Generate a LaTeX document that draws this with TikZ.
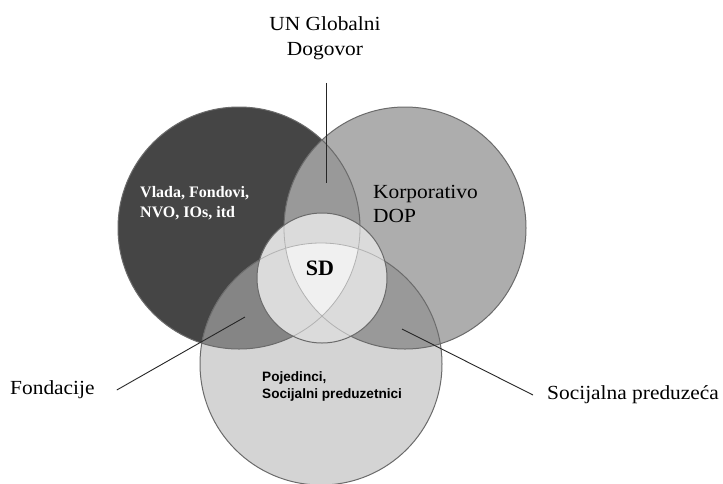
\documentclass[tikz,border=0pt]{standalone}
\usepackage{fontspec}
\setmainfont{Liberation Serif}
\newfontfamily\boxsans{Liberation Sans}
\usetikzlibrary{calc}

\definecolor{govfill}{gray}{0.27}
\definecolor{corpfill}{gray}{0.68}
\definecolor{indfill}{gray}{0.83}
\definecolor{govcorp}{gray}{0.60}
\definecolor{govind}{gray}{0.52}
\definecolor{corpind}{gray}{0.60}
\definecolor{sdfill}{gray}{0.86}
\definecolor{sdcore}{gray}{0.94}
\definecolor{rim}{gray}{0.42}

\tikzset{
  lbl/.style={inner sep=0pt, font=\fontsize{20}{25}\selectfont, xscale=1.07},
  leader/.style={draw=black!85, line width=0.9pt},
  rimline/.style={draw=rim, line width=1pt},
  faintline/.style={draw=black!30, line width=0.8pt}
}

\begin{document}
\begin{tikzpicture}[x=1pt,y=-1pt]
		%%%%% START %%%%%
		\useasboundingbox (0,0) rectangle (723,483);
		\fill[white] (0,0) rectangle (723,483);
		\def\rbig{121}
		\def\rsmall{65}
		
		\coordinate (gov) at (239,228);
		\coordinate (corp) at (405,228);
		\coordinate (ind) at (321,364);
		\coordinate (core) at (322,278);
		
		\fill[govfill] (gov) circle[radius=\rbig];
		\fill[corpfill] (corp) circle[radius=\rbig];
		\fill[indfill] (ind) circle[radius=\rbig];
		
		\begin{scope}
			\clip (gov) circle[radius=\rbig];
			\fill[govcorp] (corp) circle[radius=\rbig];
			\fill[govind] (ind) circle[radius=\rbig];
		\end{scope}
		\begin{scope}
			\clip (corp) circle[radius=\rbig];
			\fill[corpind] (ind) circle[radius=\rbig];
		\end{scope}
		
		\draw[rimline] (gov) circle[radius=\rbig];
		\draw[rimline] (corp) circle[radius=\rbig];
		\draw[rimline] (ind) circle[radius=\rbig];
		
		% SD in the middle
		\fill[sdfill] (core) circle[radius=\rsmall];
		\begin{scope}
			\clip (gov) circle[radius=\rbig];
			\clip (corp) circle[radius=\rbig];
			\fill[sdcore] (ind) circle[radius=\rbig];
		\end{scope}
		\begin{scope}
			\clip (core) circle[radius=\rsmall];
			\draw[faintline] (gov) circle[radius=\rbig];
			\draw[faintline] (corp) circle[radius=\rbig];
			\draw[faintline] (ind) circle[radius=\rbig];
		\end{scope}
		\draw[rimline] (core) circle[radius=\rsmall];
		
		\node[anchor=west, align=left, text=white, inner sep=0pt, font=\fontsize{16}{20}\selectfont\bfseries] (govtext) at (140,203) {Vlada, Fondovi,\\NVO, IOs, itd};
		\node[lbl, anchor=west, align=left, font=\fontsize{20}{24}\selectfont] (corptext) at (373,204) {Korporativo\\DOP};
		\node[inner sep=0pt, font=\fontsize{22}{26}\selectfont\bfseries] (sdtext) at (320,268) {SD};
		\node[anchor=west, align=left, inner sep=0pt, font=\boxsans\fontsize{13.6}{17}\selectfont\bfseries] (indtext) at (262,386.5) {Pojedinci,\\Socijalni preduzetnici};
		
		% labels outside
		\node[lbl, align=center] (un) at (325,38) {UN Globalni\\Dogovor};
		\node[lbl, anchor=west] (fond) at (10,390) {Fondacije};
		\node[lbl, anchor=west] (socp) at (547,395) {Socijalna preduzeća};
		
		\coordinate (untip) at (326,183);
		\coordinate (fondtip) at (245,317);
		\coordinate (socptip) at (402,329);
		
		\draw[leader] (untip |- un.south) ++(0,23) -- (untip);
		\draw[leader] ([xshift=22pt]fond.east) -- (fondtip);
		\draw[leader] (socptip) -- ([xshift=-14pt]socp.west);
		%%%%% END %%%%%
\end{tikzpicture}
\end{document}
